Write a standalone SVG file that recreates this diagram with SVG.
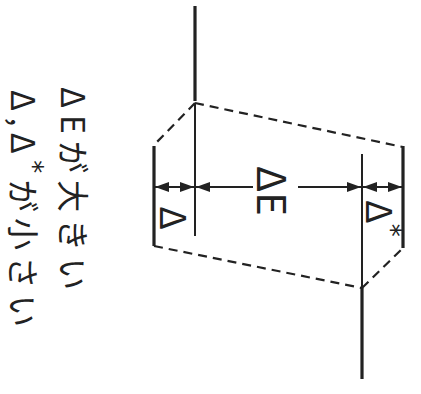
<svg xmlns="http://www.w3.org/2000/svg" width="421" height="394" viewBox="0 0 421 394">
<style>
.thick{stroke:#222;stroke-width:3.2;fill:none;stroke-linecap:butt}
.thin{stroke:#222;stroke-width:2;fill:none}
.dash{stroke:#222;stroke-width:2.2;fill:none;stroke-dasharray:9 6}
.dim{stroke:#222;stroke-width:2;fill:none}
.lbl{font-family:"Noto Sans CJK JP","DejaVu Sans",sans-serif;fill:#222;dominant-baseline:central}
.ast{font-family:"DejaVu Sans",sans-serif}
</style>
<defs>
<marker id="ah" viewBox="0 0 14 10" refX="14" refY="5" markerWidth="14" markerHeight="10" markerUnits="userSpaceOnUse" orient="auto-start-reverse">
<path d="M0,0 L14,5 L0,10 Z" fill="#222"/>
</marker>
</defs>
<rect width="421" height="394" fill="#fff"/>
<g id="levels">
<line class="thick" x1="195" y1="6" x2="195" y2="101"/>
<line class="thin" x1="195" y1="104" x2="195" y2="236"/>
<line class="thick" x1="154" y1="146" x2="154" y2="246"/>
<line class="thick" x1="403" y1="146" x2="403" y2="248"/>
<line class="thin" x1="362" y1="154" x2="362" y2="287"/>
<line class="thick" x1="362" y1="288" x2="362" y2="379"/>
</g>
<g id="outline">
<line class="dash" x1="195" y1="103" x2="154" y2="145"/>
<line class="dash" x1="195" y1="103" x2="403" y2="147"/>
<line class="dash" x1="154" y1="246" x2="362" y2="288"/>
<line class="dash" x1="362" y1="288" x2="403" y2="248"/>
</g>
<g id="connectors">
<line class="dim" x1="174" y1="187" x2="155" y2="187" marker-end="url(#ah)"/>
<line class="dim" x1="174" y1="187" x2="194" y2="187" marker-end="url(#ah)"/>
<line class="dim" x1="253" y1="187" x2="196" y2="187" marker-end="url(#ah)"/>
<line class="dim" x1="298" y1="187" x2="361" y2="187" marker-end="url(#ah)"/>
<line class="dim" x1="383" y1="187" x2="363" y2="187" marker-end="url(#ah)"/>
<line class="dim" x1="383" y1="187" x2="402" y2="187" marker-end="url(#ah)"/>
</g>
<g id="label-dE">
<text class="lbl" transform="translate(274,191) rotate(90)" text-anchor="middle" font-size="40">ΔE</text>
</g>
<g id="label-d">
<text class="lbl" transform="translate(176,218) rotate(90)" text-anchor="middle" font-size="36">Δ</text>
</g>
<g id="label-dstar">
<text class="lbl" transform="translate(382,200) rotate(90)" text-anchor="start" font-size="36">Δ<tspan class="ast" font-size="26" dy="-9">*</tspan></text>
</g>
<g id="note">
<text class="lbl" transform="translate(75,87) rotate(90)" font-size="32" textLength="203" lengthAdjust="spacing">ΔEが大きい</text>
<text class="lbl" transform="translate(25,90) rotate(90)" font-size="32" textLength="237" lengthAdjust="spacing">Δ,Δ<tspan class="ast" font-size="26" dy="-8">*</tspan><tspan dy="8">が小さい</tspan></text>
</g>
</svg>
